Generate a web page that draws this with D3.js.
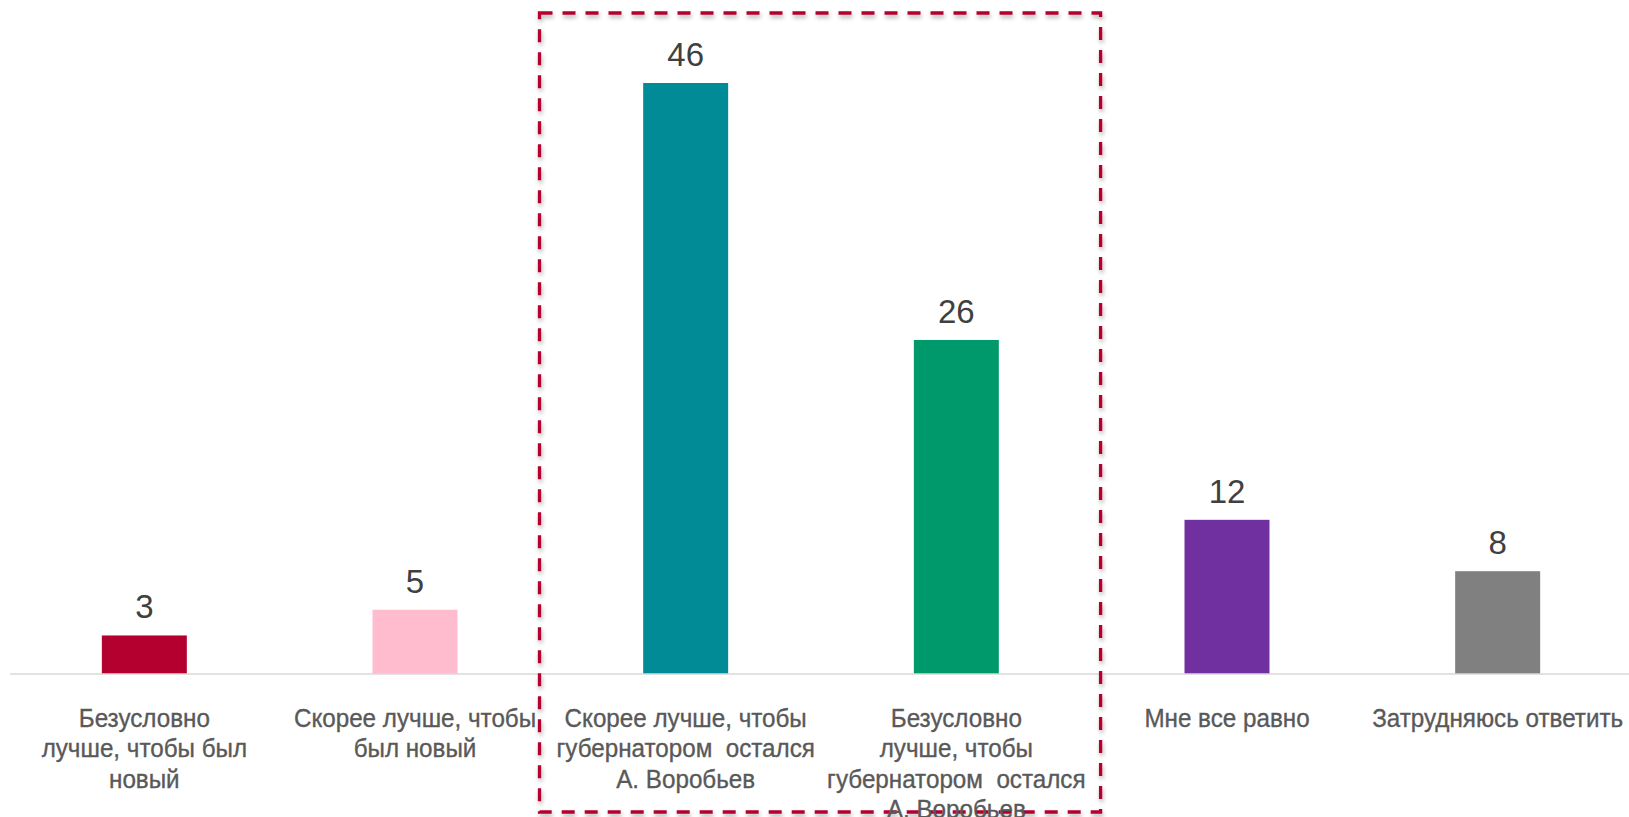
<!DOCTYPE html>
<html>
<head>
<meta charset="utf-8">
<script src="https://cdn.jsdelivr.net/npm/d3@7"></script>
<style>
  body { margin: 0; background: #fff; }
  svg { display: block; }
</style>
</head>
<body>
<script>
// answer options, line breaks as in the original chart
var categories = [
  "Безусловно|лучше, чтобы был|новый",
  "Скорее лучше, чтобы|был новый",
  "Скорее лучше, чтобы|губернатором  остался|А. Воробьев",
  "Безусловно|лучше, чтобы|губернатором  остался|А. Воробьев",
  "Мне все равно",
  "Затрудняюсь ответить"
];
var values = [3, 5, 46, 26, 12, 8];
var colors = ["#b3002f", "#ffbccf", "#008b96", "#00996c", "#7030a0", "#808080"];
// options highlighted by the dashed frame
var highlighted = [2, 3];

var width = 1629, height = 817;
var baseY = 674;

var svg = d3.select("body").append("svg")
  .attr("width", width)
  .attr("height", height);

var defs = svg.append("defs");
var f = defs.append("filter").attr("id", "shadow")
  .attr("x", "-5%").attr("y", "-5%").attr("width", "110%").attr("height", "110%");
f.append("feDropShadow")
  .attr("dx", 1).attr("dy", 3)
  .attr("stdDeviation", 2)
  .attr("flood-color", "#000")
  .attr("flood-opacity", 0.3);

var x = d3.scaleBand()
  .domain(d3.range(categories.length))
  .range([9, 1633])
  .paddingInner(0.686)
  .paddingOuter(0.343);

var y = d3.scaleLinear()
  .domain([0, 46])
  .range([baseY, 83]);

// bars
svg.selectAll("rect.bar").data(values)
  .enter().append("rect")
  .attr("class", "bar")
  .attr("x", function(d, i) { return x(i); })
  .attr("y", function(d) { return y(d); })
  .attr("width", x.bandwidth())
  .attr("height", function(d) { return y(0) - y(d); })
  .attr("fill", function(d, i) { return colors[i]; });

// baseline
svg.append("line")
  .attr("x1", 10).attr("x2", width)
  .attr("y1", baseY).attr("y2", baseY)
  .attr("stroke", "#d9d9d9")
  .attr("stroke-width", 1.5);

// value labels
svg.selectAll("text.val").data(values)
  .enter().append("text")
  .attr("class", "val")
  .attr("x", function(d, i) { return x(i) + x.bandwidth() / 2; })
  .attr("y", function(d) { return y(d) - 17; })
  .attr("text-anchor", "middle")
  .attr("font-family", "'Liberation Sans', Arial, sans-serif")
  .attr("font-size", 33)
  .attr("fill", "#404040")
  .text(function(d) { return d; });

// dashed highlight frame (under the labels)
var step = x.step();
var left = x(highlighted[0]) + x.bandwidth() / 2 - step * 0.54;
var right = x(highlighted[1]) + x.bandwidth() / 2 + step * 0.533;
svg.append("rect")
  .attr("x", left)
  .attr("y", 13)
  .attr("width", right - left)
  .attr("height", 799)
  .attr("fill", "none")
  .attr("stroke", "#b3002f")
  .attr("stroke-width", 3.3)
  .attr("stroke-dasharray", "13,10")
  .attr("filter", "url(#shadow)");

// category labels, narrowed like the condensed font of the original
var cat = svg.selectAll("g.cat").data(categories)
  .enter().append("g")
  .attr("class", "cat");

var sx = 1;
cat.each(function(d, i) {
  var cx = x(i) + x.bandwidth() / 2;
  var t = d3.select(this).append("text")
    .attr("text-anchor", "middle")
    .attr("font-family", "'Liberation Sans', Arial, sans-serif")
    .attr("font-size", 26)
    .attr("fill", "#595959")
    .attr("stroke", "#595959")
    .attr("stroke-width", 0.35)
    .style("white-space", "pre");
  d.split("|").forEach(function(line, k) {
    t.append("tspan")
      .attr("x", 0)
      .attr("y", 727 + k * 30.5)
      .text(line);
  });
  if (i == categories.length - 1) {
    sx = 251 / t.node().getComputedTextLength();
  }
  d3.select(this).attr("data-cx", cx);
});
cat.attr("transform", function() {
  return "translate(" + this.getAttribute("data-cx") + ",0) scale(" + sx + ",1)";
});
</script>
</body>
</html>
